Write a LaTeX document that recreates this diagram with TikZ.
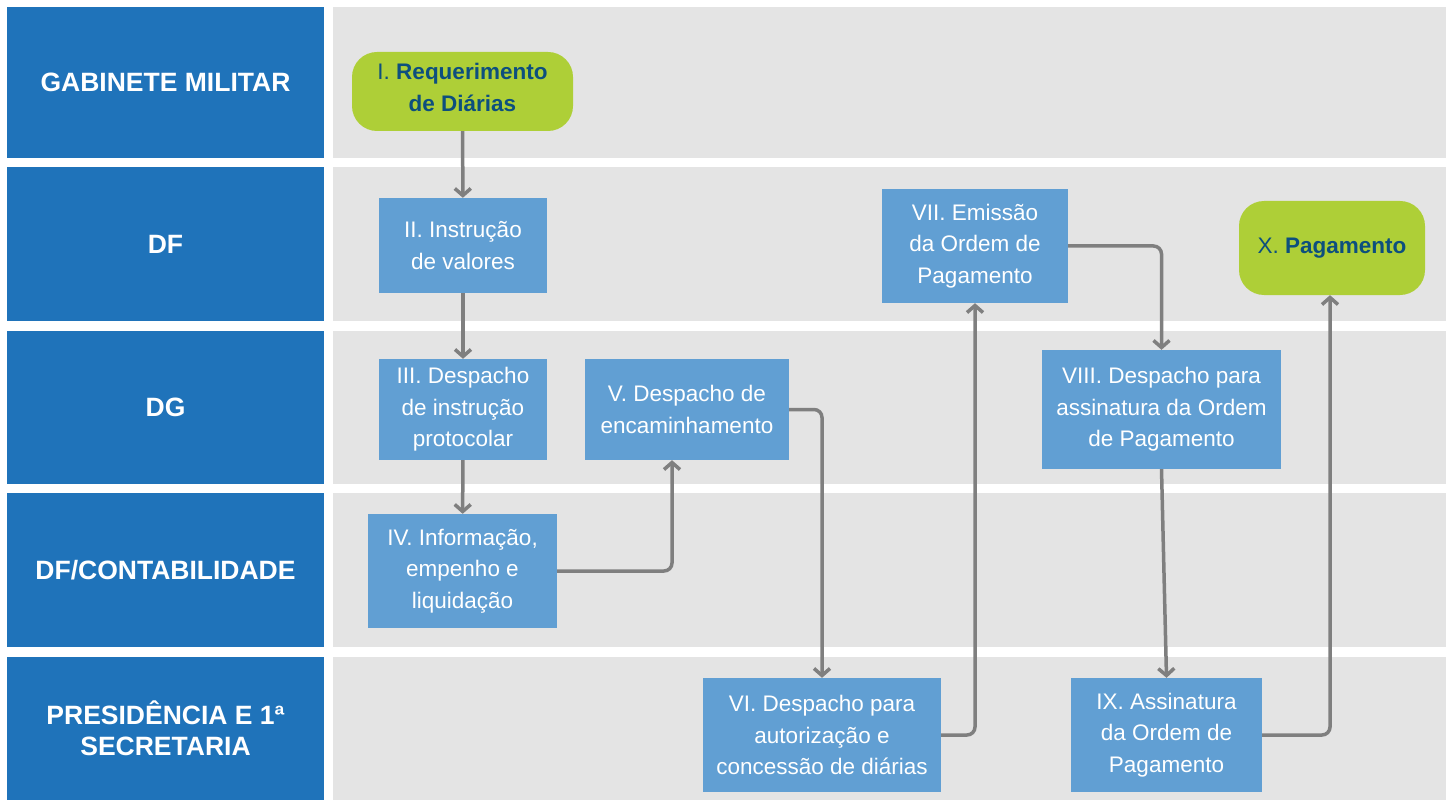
\documentclass[tikz,border=0pt]{standalone}
\usepackage{fontspec}
\setmainfont{Liberation Sans}
\usetikzlibrary{arrows.meta}

\definecolor{laneblue}{HTML}{1F73BA}
\definecolor{lanegray}{HTML}{E4E4E4}
\definecolor{stepblue}{HTML}{619FD3}
\definecolor{stepgreen}{HTML}{AECF37}
\definecolor{textblue}{HTML}{0D4F7E}
\definecolor{flowgray}{HTML}{7F7F7F}

\tikzset{
  lanelabel/.style={text=white, font=\fontsize{26.5}{31}\selectfont\bfseries, align=center},
  stepbox/.style={fill=stepblue, text=white, font=\fontsize{22.5}{31.5}\selectfont, align=center, inner sep=0pt},
  endbox/.style={fill=stepgreen, rounded corners=25pt, text=textblue, font=\fontsize{22.5}{32}\selectfont, align=center, inner sep=0pt},
  flow/.style={draw=flowgray, line width=3.5pt, rounded corners=8pt, -{Straight Barb[length=7pt,width=16pt]}},
}

\begin{document}
\begin{tikzpicture}[x=1pt, y=-1pt]
    \useasboundingbox (0,0) rectangle (1453,802);

    % Lanes
    \foreach \top/\bot/\name/\label in {
        7/158/gm/{GABINETE MILITAR},
        167/321/df/{DF},
        331/484/dg/{DG},
        493/647/cont/{DF/CONTABILIDADE},
        657/800/pres/{PRESIDÊNCIA E 1ª\\SECRETARIA}} {
        \fill[laneblue] (7,\top) rectangle (324,\bot);
        \fill[lanegray] (333,\top) rectangle (1446,\bot);
        \node[lanelabel] (\name) at (165.5,{(\top+\bot)/2}) {\label};
    }

    % Steps
    \node[endbox, minimum width=221pt, minimum height=79pt] (req) at (462.5,91.5)
        {I. \textbf{Requerimento}\\\textbf{de Diárias}\vphantom{g}\\[-24pt]};
    \node[stepbox, minimum width=168pt, minimum height=95pt] (instr) at (463,245.5)
        {II. Instrução\\de valores};
    \node[stepbox, minimum width=168pt, minimum height=101pt] (desp) at (463,409.5)
        {III. Despacho\\de instrução\\protocolar};
    \node[stepbox, minimum width=189pt, minimum height=114pt] (info) at (462.5,571)
        {IV. Informação,\\empenho e\\liquidação};
    \node[stepbox, minimum width=204pt, minimum height=101pt] (encam) at (687,409.5)
        {V. Despacho de\\encaminhamento};
    \node[stepbox, minimum width=238pt, minimum height=114pt] (autor) at (822,735)
        {VI. Despacho para\\autorização e\\concessão de diárias};
    \node[stepbox, minimum width=186pt, minimum height=114pt] (emiss) at (975,246)
        {VII. Emissão\\da Ordem de\\Pagamento};
    \node[stepbox, minimum width=239pt, minimum height=119pt] (assdesp) at (1161.5,409.5)
        {VIII. Despacho para\\assinatura da Ordem\\de Pagamento};
    \node[stepbox, minimum width=191pt, minimum height=114pt] (assin) at (1166.5,735)
        {IX. Assinatura\\da Ordem de\\Pagamento};
    \node[endbox, minimum width=186pt, minimum height=94pt] (pag) at (1332,248)
        {X. \textbf{Pagamento}};

    % Flow
    \draw[flow] (req) -- (instr);
    \draw[flow] (instr) -- (desp);
    \draw[flow] (desp) -- (info);
    \draw[flow] (info.east) -| ([xshift=-15pt]encam.south);
    \draw[flow] (encam.east) -| (autor.north);
    \draw[flow] (autor.east) -| (emiss.south);
    \draw[flow] (emiss.east) -| (assdesp.north);
    \draw[flow] (assdesp.south) -- (assin.north);
    \draw[flow] (assin.east) -| ([xshift=-2pt]pag.south);
\end{tikzpicture}
\end{document}
